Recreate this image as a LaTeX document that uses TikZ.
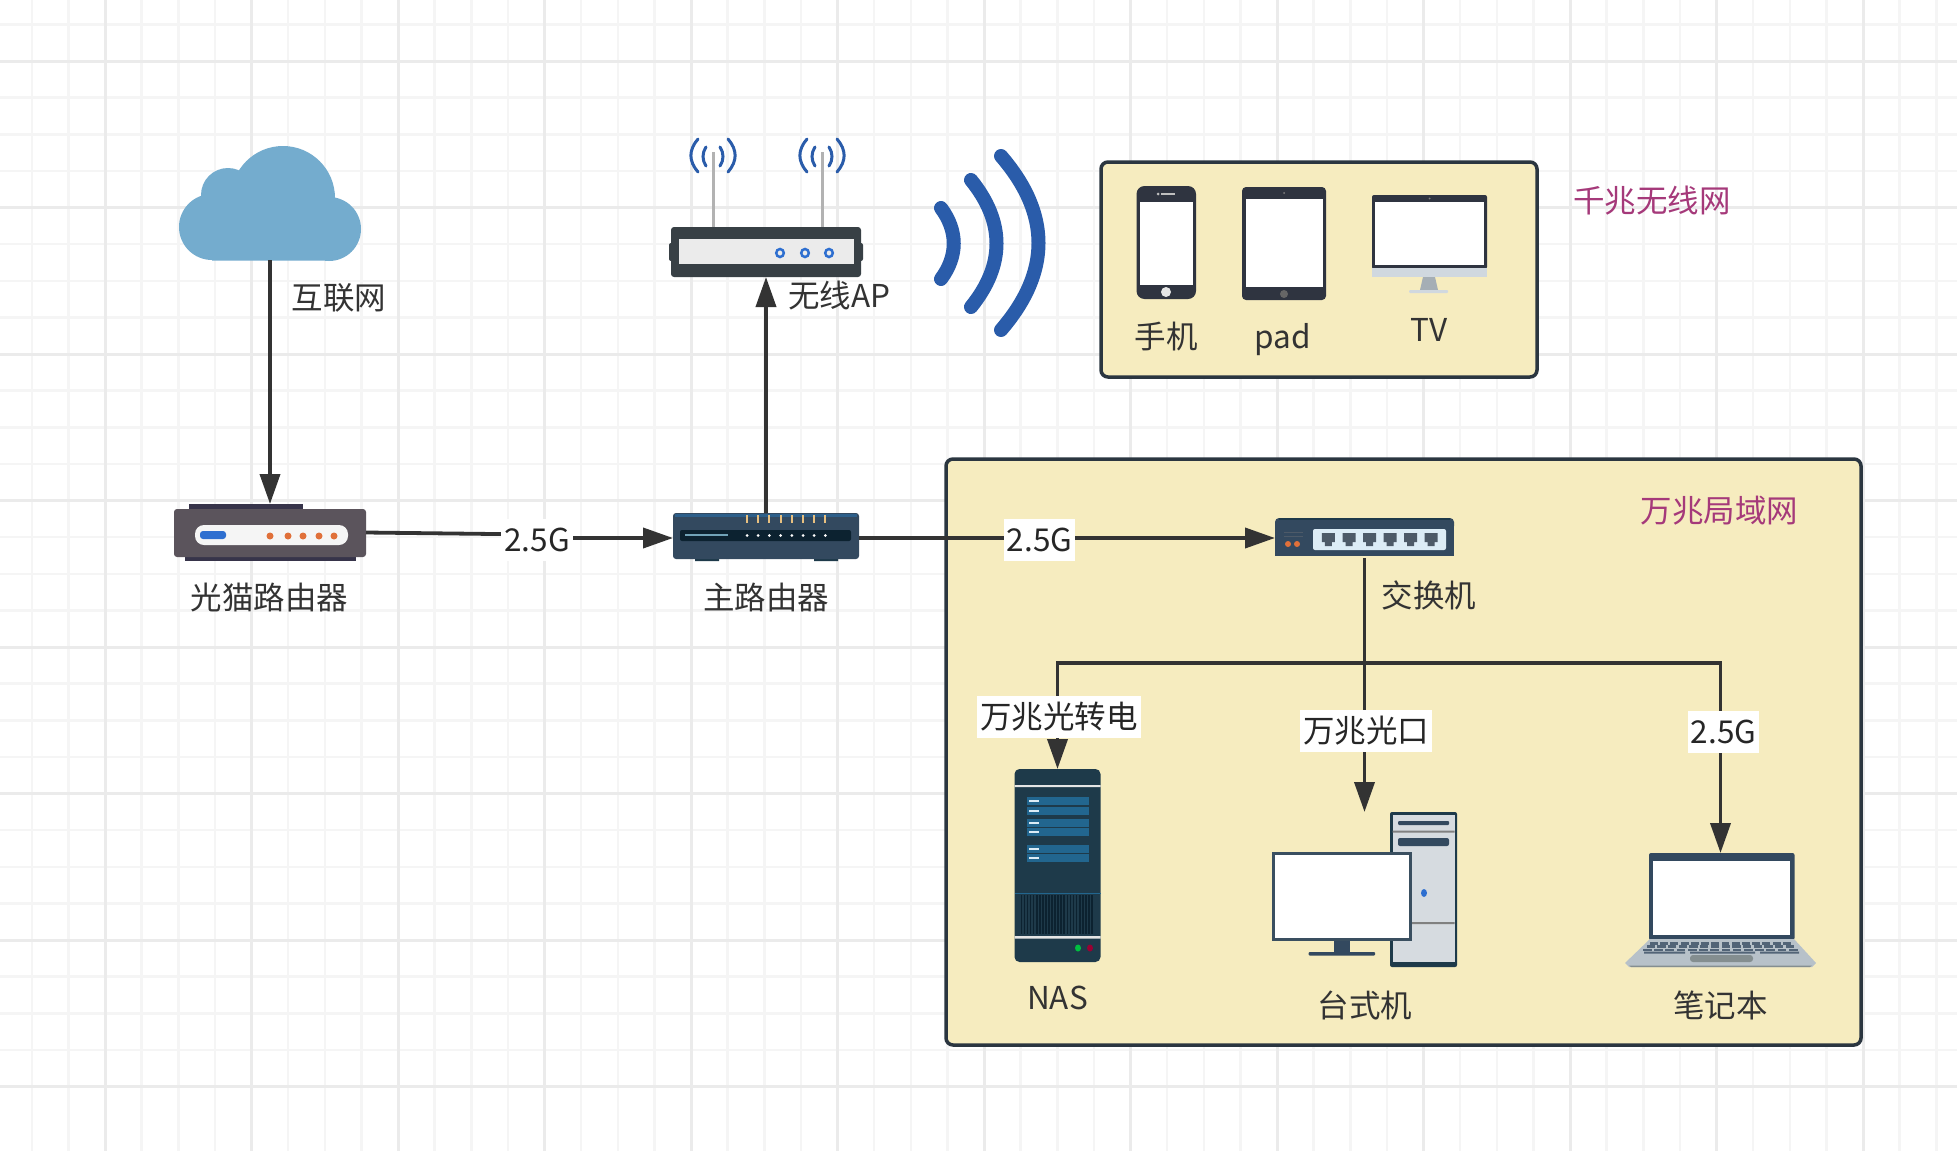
\documentclass[tikz,border=0pt]{standalone}
\usepackage{fontspec}
\setmainfont{Noto Sans CJK SC}
\usetikzlibrary{arrows.meta}
\usetikzlibrary{positioning}
\definecolor{inkc}{HTML}{333333}
\definecolor{boxfill}{HTML}{F6ECBF}
\definecolor{boxline}{HTML}{2B3640}
\definecolor{titlec}{HTML}{A5397A}
\definecolor{cloudc}{HTML}{74ACCE}
\definecolor{slate}{HTML}{33495F}
\definecolor{navy}{HTML}{1E3A4A}
\definecolor{waveb}{HTML}{2A5CAA}
\definecolor{orangec}{HTML}{E0703A}
\definecolor{greyb}{HTML}{B7C1C9}
\definecolor{modemc}{HTML}{5B545C}
\definecolor{modemd}{HTML}{37344A}
\definecolor{pinc}{HTML}{E8C080}
\definecolor{bandc}{HTML}{2D5F8A}
\definecolor{apc}{HTML}{384045}
\definecolor{ringc}{HTML}{2E6FD0}
\definecolor{phonec}{HTML}{2F3440}
\definecolor{tvband}{HTML}{D0D8DF}
\definecolor{portc}{HTML}{4D5A68}
\definecolor{panelc}{HTML}{DCECF6}
\definecolor{drivec}{HTML}{22668F}
\definecolor{grillc}{HTML}{0C2230}
\definecolor{towerc}{HTML}{D6DBE0}
\definecolor{monc}{HTML}{3A4F60}
\definecolor{padc}{HTML}{848E90}
\begin{document}
\begin{tikzpicture}[
x=1pt, y=-1pt,
dev/.style={rectangle, inner sep=0, outer sep=0},
txt/.style={inner sep=0, text=inkc, font=\fontsize{31.5}{31.5}\selectfont},
title/.style={inner sep=0, text=titlec, font=\fontsize{31.5}{31.5}\selectfont},
rate/.style={fill=white, inner xsep=3pt, inner ysep=0, minimum height=42pt, text=black!85, font=\fontsize{31.5}{31.5}\selectfont},
edge/.style={draw=inkc, line width=3.8pt, -{Triangle[length=30pt, width=20pt]}},
group/.style={draw=boxline, fill=boxfill, line width=3.5pt, rounded corners=7pt},
wave/.style={draw=waveb, line width=14pt, line cap=round},
ant/.style={draw=waveb, line width=3pt, line cap=round},
screen/.style={fill=white}
]
\useasboundingbox (0,0) rectangle (1957,1151);
\fill[white] (0,0) rectangle (1957,1151);
\begin{scope}
\clip (0,0) rectangle (1957,1151);
\foreach \i in {0,...,54} {
\draw[draw=black!4, line width=2.5pt] ({-41.5+36.625*\i},0) -- ({-41.5+36.625*\i},1151);
}
\foreach \i in {0,...,32} {
\draw[draw=black!4, line width=2.5pt] (0,{-85.5+36.625*\i}) -- (1957,{-85.5+36.625*\i});
}
\foreach \i in {0,...,14} {
\draw[draw=black!8, line width=3pt] ({-41.5+146.5*\i},0) -- ({-41.5+146.5*\i},1151);
}
\foreach \i in {0,...,8} {
\draw[draw=black!8, line width=3pt] (0,{-85.5+146.5*\i}) -- (1957,{-85.5+146.5*\i});
}
\end{scope}
\node[dev, group, minimum width=436pt, minimum height=215pt] (wifibox) at (1319,269.5) {};
\node[dev, group, minimum width=915pt, minimum height=586pt] (lanbox) at (1403.5,752) {};
\node[dev, minimum width=184pt, minimum height=115pt] (cloud) at (270,202.5) {};
\node[dev, minimum width=192pt, minimum height=57pt] (modem) at (270,532.5) {};
\node[dev, minimum width=186pt, minimum height=50pt] (router) at (766,538) {};
\node[dev, minimum width=192pt, minimum height=50pt] (ap) at (766,252) {};
\node[dev, minimum width=179pt, minimum height=40pt] (switch) at (1364.5,538) {};
\node[dev, minimum width=86pt, minimum height=193pt] (nas) at (1057.5,865.5) {};
\node[dev, minimum width=185pt, minimum height=155pt] (desktop) at (1364.5,889.5) {};
\node[dev, minimum width=190pt, minimum height=114pt] (laptop) at (1720.5,910) {};
\coordinate (kink) at (537,534.5);
\coordinate (bus) at (1364.5,663);
\fill[cloudc] (283,198) circle[radius=52pt] (228,195) circle[radius=27pt] (212,227) circle[radius=33pt] (329,229) circle[radius=32pt] (212,205) rectangle (329,260.5);
\fill[modemd] (189,504) rectangle (303,512);
\fill[modemd] (185,552) rectangle (356,561);
\fill[modemc, rounded corners=3pt] (174,509) rectangle (366,557);
\fill[black!4, rounded corners=9pt] (195,525) rectangle (348,545);
\fill[ringc, rounded corners=3pt] (200,531) rectangle (226,539);
\foreach \x in {270,288,303,319,334} {
\fill[orangec] (\x,536) circle[radius=3.5pt];
}
\fill[navy] (695,555) rectangle (719,561) (814,555) rectangle (838,561);
\fill[slate, rounded corners=3pt] (673,513) rectangle (859,559);
\fill[bandc] (675,513.5) rectangle (857,517);
\fill[grillc, rounded corners=2pt] (680,530) rectangle (851,541);
\draw[draw=cyan!40!gray, line width=2pt] (685,535) -- (728,535);
\foreach \i in {0,...,7} {
\fill[white] ({747+11.2*\i},535.5) circle[radius=1.5pt];
\fill[pinc] ({746+11.2*\i},515) rectangle ({748+11.2*\i},523);
}
\draw[draw=black!30, line width=3pt] (713,152) -- (713,228) (822,152) -- (822,228);
\foreach \a in {713,822} {
\foreach \s in {-1,1} {
\draw[ant] ({\a+\s*15},139) .. controls ({\a+\s*24.5},150) and ({\a+\s*24.5},161) .. ({\a+\s*15},172);
\draw[ant] ({\a+\s*7},147) .. controls ({\a+\s*11},153) and ({\a+\s*11},160) .. ({\a+\s*7},166);
}
}
\fill[apc, rounded corners=2pt] (669,243) rectangle (863,261);
\fill[apc, rounded corners=3pt] (671,227) rectangle (861,277);
\fill[black!8] (679,239) rectangle (853.5,264);
\foreach \x in {780,805,829} {
\draw[draw=ringc, line width=2.5pt] (\x,253) ellipse[x radius=3.8pt, y radius=4pt];
}
\draw[wave] (941,208) .. controls (958,231) and (958,256) .. (941,279);
\draw[wave] (971,180) .. controls (1005,222) and (1005,265) .. (971,307);
\draw[wave] (1001,156) .. controls (1051,214) and (1051,272) .. (1001,330);
\fill[phonec, rounded corners=8pt] (1136.5,186) rectangle (1196,299);
\fill[screen] (1140,202) rectangle (1193,285);
\fill[black!10] (1166,292) circle[radius=5pt];
\draw[draw=black!25, line width=1.5pt] (1161,194) -- (1175,194);
\fill[black!25] (1158,194) circle[radius=1.5pt];
\fill[phonec, rounded corners=4pt] (1242,187) rectangle (1326,300);
\fill[screen] (1246,199) rectangle (1323,287);
\fill[black!60] (1284,294) circle[radius=4pt];
\fill[black!50] (1284,193) circle[radius=1pt];
\fill[phonec, rounded corners=2pt] (1372,195) rectangle (1487,269);
\fill[screen] (1375,202) rectangle (1484,265);
\fill[black!50] (1429.5,198.5) circle[radius=1pt];
\fill[tvband] (1372,268) rectangle (1487,277);
\fill[greyb!90!black] (1423,277) -- (1435,277) -- (1438,290) -- (1420,290) -- cycle;
\fill[tvband, rounded corners=1pt] (1409,290) rectangle (1448,293);
\fill[slate, rounded corners=4pt] (1275,518) rectangle (1454,530);
\fill[slate] (1275,522) rectangle (1454,556);
\fill[navy] (1279,518) rectangle (1450,519.5);
\fill[panelc, rounded corners=2pt] (1313,529) rectangle (1446,550);
\foreach \x in {1328.3,1349,1369.7,1390,1410.7,1431} {
\fill[portc] (\x-6.5,533) -- (\x+6.5,533) -- (\x+6.5,542) -- (\x+3.5,542) -- (\x+3.5,546) -- (\x-3.5,546) -- (\x-3.5,542) -- (\x-6.5,542) -- cycle;
}
\fill[orangec] (1288,544) circle[radius=3pt] (1297,544) circle[radius=3pt];
\draw[draw=portc, line width=1pt] (1284,532) -- (1303,532) (1284,536) -- (1303,536);
\fill[navy, rounded corners=5pt] (1014.5,769) rectangle (1100.5,962);
\fill[black!10] (1014.5,785) rectangle (1100.5,787) (1014.5,936) rectangle (1100.5,938.5);
\fill[drivec] (1014.5,892.5) rectangle (1100.5,893.5);
\foreach \y in {797,807,819,828,845,854} {
\fill[drivec] (1027,\y) rectangle (1088.5,\y+7.5);
\fill[panelc] (1028.5,\y+2.5) rectangle (1039,\y+4.5);
}
\foreach \i in {0,...,23} {
\fill[grillc] ({1020.5+3.07*\i},895) rectangle ({1022.2+3.07*\i},934);
}
\fill[green!50!teal] (1078,948) ellipse[x radius=3pt, y radius=3.5pt];
\fill[purple!80!black] (1090,948) ellipse[x radius=3pt, y radius=3.5pt];
\fill[navy, rounded corners=2pt] (1390,812) rectangle (1457,967);
\fill[towerc] (1392.5,814.5) rectangle (1454.5,962);
\fill[black!50] (1392.5,830.5) rectangle (1454.5,832.5) (1392.5,922) rectangle (1454.5,924);
\fill[slate, rounded corners=1pt] (1398,821) rectangle (1449,825);
\fill[slate, rounded corners=2pt] (1398,838) rectangle (1449,846);
\fill[ringc] (1424,893) ellipse[x radius=3pt, y radius=4pt];
\fill[slate] (1334,938) rectangle (1350,953);
\fill[slate, rounded corners=1pt] (1308.5,952) rectangle (1375,955.5);
\fill[monc] (1272,852) rectangle (1411.5,941);
\fill[screen] (1274.5,855) rectangle (1409,938);
\fill[slate, rounded corners=2pt] (1649,853) rectangle (1794.5,940);
\fill[screen] (1653,861) rectangle (1790,935);
\fill[greyb] (1650,939) -- (1794,939) -- (1816,963) -- (1812,967) -- (1629,967) -- (1625,963) -- cycle;
\fill[padc] (1629,965.5) -- (1812,965.5) -- (1810,967) -- (1631,967) -- cycle;
\foreach \r in {0,1,2} {
\foreach \i in {0,...,13} {
\fill[slate!85] ({1650-3.5*\r+\i*(143+7*\r)/14},{942+3.4*\r}) rectangle ++({0.78*(143+7*\r)/14},2.6);
}
}
\fill[slate!85] (1644,951.5) rectangle (1685,953.5) (1690,951.5) rectangle (1755,953.5) (1760,951.5) rectangle (1799,953.5);
\fill[padc, rounded corners=3pt] (1690,955) rectangle (1753,962);
\draw[edge] (cloud.south) -- (modem.north);
\draw[edge] (router.north) -- (ap.south);
\draw[edge] (modem.east) -- (kink) |- (router.west);
\draw[edge] (router.east) -- (switch.west);
\draw[edge] (switch.south) -- (desktop.north);
\draw[edge] (bus) -| (nas.north);
\draw[edge] (bus) -| (laptop.north);
\node[rate] (rateA) at (537,539.5) {2.5G};
\node[rate] (rateB) at (1039.5,539.5) {2.5G};
\node[rate] (rateNas) at (1059,716.5) {万兆光转电};
\node[rate] (ratePc) at (1366,730.5) {万兆光口};
\node[rate] (rateLap) at (1723.5,731.5) {2.5G};
\node[txt] (lbCloud) at (339,298) {互联网};
\node[txt] (lbModem) at (269.5,598) {光猫路由器};
\node[txt] (lbRouter) at (766,598) {主路由器};
\node[txt] (lbAp) at (839.5,295) {无线AP};
\node[txt] (lbPhone) at (1166,337) {手机};
\node[txt] (lbPad) at (1283,340) {pad};
\node[txt] (lbTv) at (1429,329.5) {TV};
\node[txt] (lbSwitch) at (1429,595) {交换机};
\node[txt] (lbNas) at (1057.5,997.5) {NAS};
\node[txt] (lbPc) at (1365,1005.5) {台式机};
\node[txt] (lbLap) at (1720.5,1005.5) {笔记本};
\node[title] (lbWifi) at (1652,200.5) {千兆无线网};
\node[title] (lbLan) at (1719.5,510.5) {万兆局域网};
\end{tikzpicture}
\end{document}
